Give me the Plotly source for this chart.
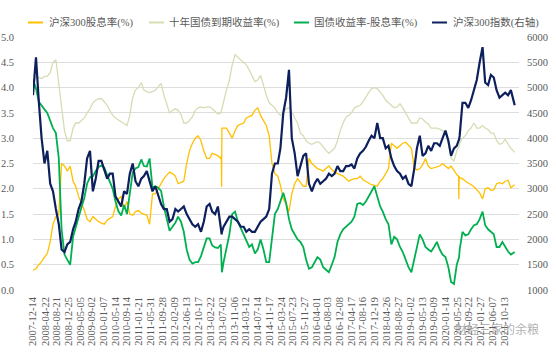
import plotly.graph_objects as go

# ---------------- data ----------------
extra_dates = ["2013-06-21", "2013-06-24", "2013-06-27",
               "2020-06-03", "2020-06-06", "2020-06-09"]
month_dates = ["2007-12-14"] + [f"{y}-{m:02d}-15" for y in range(2008, 2022) for m in range(1, 13)] + ["2022-01-25"]
dates = sorted(month_dates + extra_dates)

hs300_index = [
    4850,
    5600, 4700, 4000, 3500, 3750, 3100, 2950, 2600, 2300, 1800, 1750, 1900,
    1950, 2200, 2350, 2600, 2750, 3100, 3600, 3750, 2950, 3200, 3550, 3550,
    3350, 3200, 3300, 3300, 2850, 2750, 2650, 2950, 2900, 3300, 3500, 3150,
    3050, 3200, 3250, 3350, 3150, 2950, 3050, 2850, 2700, 2600, 2600, 2350,
    2400, 2600, 2550, 2600, 2650, 2500, 2400, 2300, 2250, 2300, 2150, 2350,
    2650, 2700, 2550, 2500, 2650, 2300, 2150, 2100, 2150, 2250, 2350, 2450, 2450, 2400, 2350,
    2250, 2250, 2150, 2200, 2150, 2150, 2250, 2350, 2400, 2450, 2600, 3300,
    3500, 3500, 3800, 4500, 4800, 5350, 4000, 3700, 3250, 3450, 3650, 3700,
    3100, 2950, 3100, 3200, 3100, 3150, 3200, 3300, 3250, 3300, 3450, 3350,
    3350, 3450, 3450, 3480, 3400, 3600, 3700, 3750, 3830, 3950, 4050, 4000,
    4300, 4000, 4000, 3800, 3850, 3600, 3450, 3350, 3300, 3200, 3250, 3100,
    3050, 3400, 3800, 4050, 3650, 3700, 3850, 3750, 3900, 3900, 3850, 4000,
    4150, 3950, 3650, 3800, 3850, 3950, 3960, 3970, 4050, 4700, 4700, 4600, 4750, 4950, 5150,
    5500, 5800, 5100, 5050, 5250, 5200, 4950, 4800, 4850, 4900, 4850, 4950,
    4650,
]

dividend_yield = [
    0.39,
    0.42, 0.50, 0.56, 0.65, 0.72, 0.95, 1.30, 1.45, 1.50, 2.50, 2.45, 2.35,
    2.45, 2.15, 2.05, 1.85, 1.72, 1.58, 1.40, 1.35, 1.45, 1.40, 1.35, 1.32,
    1.30, 1.38, 1.42, 1.45, 1.65, 1.80, 1.85, 1.60, 1.75, 1.50, 1.48, 1.55,
    1.57, 1.52, 1.50, 1.48, 1.30, 1.90, 1.90, 2.00, 2.12, 2.20, 2.27, 2.33,
    2.30, 2.25, 2.10, 2.12, 2.15, 2.50, 2.75, 2.90, 3.00, 3.05, 2.95, 2.75,
    2.60, 2.60, 2.70, 2.68, 2.65, 2.60, 2.65, 2.04, 3.20, 3.20, 3.20, 3.10, 3.00, 3.15, 3.25,
    3.28, 3.30, 3.40, 3.42, 3.45, 3.55, 3.60, 3.45, 3.35, 3.25, 3.05, 2.50,
    2.30, 2.25, 2.07, 1.80, 1.70, 1.55, 1.90, 2.10, 2.20, 2.12, 2.05, 2.05,
    2.60, 2.50, 2.45, 2.40, 2.38, 2.35, 2.40, 2.45, 2.38, 2.33, 2.30, 2.27,
    2.25, 2.20, 2.15, 2.18, 2.20, 2.20, 2.25, 2.18, 2.15, 2.12, 2.08, 2.07,
    2.05, 2.15, 2.20, 2.30, 2.40, 2.90, 2.85, 2.80, 2.85, 2.90, 2.92, 2.85,
    2.80, 2.42, 2.37, 2.40, 2.47, 2.60, 2.45, 2.40, 2.42, 2.43, 2.45, 2.50,
    2.45, 2.40, 2.45, 2.35, 2.28, 2.25, 1.80, 2.25, 2.22, 2.20, 2.15, 2.12, 2.08, 2.04, 1.98,
    1.92, 1.80, 2.00, 2.02, 1.97, 1.98, 2.10, 2.12, 2.10, 2.15, 2.17, 2.02,
    2.08,
]

bond_10y = [
    4.25,
    4.18, 4.20, 4.18, 4.22, 4.22, 4.30, 4.50, 4.55, 4.10, 3.70, 3.15, 2.95,
    2.95, 3.20, 3.30, 3.30, 3.35, 3.40, 3.50, 3.58, 3.70, 3.75, 3.78, 3.78,
    3.72, 3.65, 3.55, 3.45, 3.40, 3.36, 3.32, 3.28, 3.25, 3.45, 3.80, 3.95,
    4.00, 4.10, 3.95, 3.92, 3.90, 3.92, 3.95, 4.02, 4.08, 3.85, 3.65, 3.50,
    3.55, 3.58, 3.55, 3.47, 3.30, 3.30, 3.35, 3.42, 3.55, 3.60, 3.62, 3.60,
    3.62, 3.62, 3.58, 3.52, 3.48, 3.50, 3.55, 3.55, 3.55, 3.70, 3.95, 4.15, 4.45, 4.65, 4.60,
    4.55, 4.50, 4.45, 4.35, 4.22, 4.12, 4.15, 4.24, 4.05, 3.85, 3.70, 3.65,
    3.60, 3.50, 3.45, 3.50, 3.58, 3.60, 3.52, 3.40, 3.30, 3.10, 3.05, 2.95,
    2.90, 2.88, 2.90, 2.93, 2.90, 2.82, 2.76, 2.70, 2.75, 2.80, 2.95, 3.15,
    3.30, 3.42, 3.45, 3.50, 3.60, 3.62, 3.65, 3.72, 3.82, 3.90, 3.98, 4.00,
    3.98, 3.92, 3.85, 3.75, 3.70, 3.65, 3.60, 3.62, 3.68, 3.60, 3.50, 3.42,
    3.30, 3.30, 3.30, 3.40, 3.38, 3.32, 3.28, 3.20, 3.20, 3.20, 3.18, 3.15,
    3.10, 2.90, 2.60, 2.55, 2.75, 2.80, 2.82, 2.85, 2.90, 3.00, 3.05, 3.15, 3.20, 3.30, 3.20,
    3.20, 3.25, 3.20, 3.17, 3.10, 3.10, 2.95, 2.88, 2.90, 2.98, 2.88, 2.80,
    2.72,
]

spread = [
    4.16,
    3.98, 3.72, 3.64, 3.57, 3.50, 3.35, 3.20, 3.10, 2.60, 1.20, 0.70, 0.60,
    0.50, 1.05, 1.25, 1.45, 1.63, 1.82, 2.10, 2.23, 2.25, 2.35, 2.43, 2.46,
    2.42, 2.27, 2.13, 2.00, 1.75, 1.56, 1.47, 1.68, 1.50, 1.95, 2.32, 2.40,
    2.43, 2.58, 2.45, 2.44, 2.60, 2.02, 2.05, 2.02, 1.96, 1.65, 1.38, 1.17,
    1.25, 1.33, 1.45, 1.35, 1.15, 0.80, 0.60, 0.52, 0.55, 0.55, 0.67, 0.85,
    1.02, 1.02, 0.88, 0.84, 0.83, 0.90, 0.55, 0.35, 0.35, 0.55, 0.80, 1.10, 1.50, 1.55, 1.35,
    1.22, 1.10, 0.95, 0.85, 0.90, 0.72, 0.80, 1.00, 0.80, 0.55, 0.55, 1.00,
    1.50, 1.60, 1.75, 1.92, 1.72, 1.40, 1.20, 1.10, 1.00, 0.95, 0.85, 0.60,
    0.42, 0.45, 0.55, 0.65, 0.60, 0.45, 0.40, 0.35, 0.50, 0.65, 0.95, 1.10,
    1.20, 1.25, 1.30, 1.35, 1.45, 1.70, 1.72, 1.68, 1.75, 1.85, 1.95, 2.05,
    1.85, 1.65, 1.55, 1.40, 1.30, 0.90, 1.05, 1.00, 0.85, 0.75, 0.60, 0.45,
    0.35, 0.60, 0.85, 1.10, 1.00, 0.85, 0.80, 0.76, 0.85, 0.95, 0.80, 0.70,
    0.65, 0.45, 0.16, 0.12, 0.50, 0.60, 0.65, 0.65, 0.80, 1.15, 1.08, 1.10, 1.20, 1.28, 1.30,
    1.40, 1.55, 1.28, 1.20, 1.15, 1.10, 0.85, 0.85, 0.95, 0.85, 0.76, 0.70,
    0.75,
]

tick_labels = [
    "2007-12-14", "2008-04-22", "2008-08-21", "2008-12-25", "2009-05-05", "2009-09-02",
    "2010-01-07", "2010-05-14", "2010-09-14", "2011-01-21", "2011-05-31", "2011-09-28",
    "2012-02-09", "2012-06-13", "2012-10-17", "2013-02-22", "2013-07-02", "2013-11-06",
    "2014-03-12", "2014-07-14", "2014-11-17", "2015-03-24", "2015-07-23", "2015-11-27",
    "2016-04-01", "2016-08-03", "2016-12-08", "2017-04-17", "2017-08-16", "2017-12-19",
    "2018-04-26", "2018-08-27", "2019-01-02", "2019-05-13", "2019-09-09", "2020-01-14",
    "2020-05-25", "2020-09-22", "2021-01-27", "2021-06-07", "2021-10-13",
]

series_names = ["沪深300股息率(%)", "十年国债到期收益率(%)", "国债收益率-股息率(%)", "沪深300指数(右轴)"]
series_colors = ["#FFC000", "#D5DDB4", "#00B050", "#0D1F5C"]

for arr in (hs300_index, dividend_yield, bond_10y, spread):
    assert len(arr) == len(dates), (len(arr), len(dates))

# ---------------- figure ----------------
W, H = 556, 354
L, R, T, B = 33, 519, 37, 290   # plot area in pixels

fig = go.Figure()
fig.add_trace(go.Scatter(x=dates, y=dividend_yield, name=series_names[0], mode="lines",
                         line=dict(color=series_colors[0], width=1.3)))
fig.add_trace(go.Scatter(x=dates, y=bond_10y, name=series_names[1], mode="lines",
                         line=dict(color=series_colors[1], width=1.3)))
fig.add_trace(go.Scatter(x=dates, y=spread, name=series_names[2], mode="lines",
                         line=dict(color=series_colors[2], width=1.8)))
fig.add_trace(go.Scatter(x=dates, y=hs300_index, name=series_names[3], mode="lines", yaxis="y2",
                         line=dict(color=series_colors[3], width=2.2)))

tick_font = dict(family="Liberation Serif, Noto Sans CJK SC", size=10.5, color="#595959")

fig.update_layout(
    width=W, height=H,
    margin=dict(l=L, r=W - R, t=T, b=H - B, pad=0),
    paper_bgcolor="white", plot_bgcolor="white",
    showlegend=False,
    xaxis=dict(
        type="date",
        range=["2007-12-14", "2022-03-12"],
        tickmode="array", tickvals=tick_labels, ticktext=tick_labels,
        tickangle=-90, tickfont=tick_font,
        showgrid=False, zeroline=False, showline=False, ticks="",
        ticklabelstandoff=4, automargin=False,
    ),
    yaxis=dict(
        range=[0, 5], dtick=0.5, tickformat=".1f",
        showgrid=True, gridcolor="#DDDDDD", gridwidth=1,
        zeroline=False, showline=False, ticks="",
        tickfont=tick_font, ticklabelstandoff=18, automargin=False,
    ),
    yaxis2=dict(
        range=[1000, 6000], dtick=500, overlaying="y", side="right",
        showgrid=False, zeroline=False, showline=False, ticks="",
        tickfont=tick_font, ticklabelstandoff=7, automargin=False,
    ),
)

# custom legend (short line samples like the reference)
def px2x(px):
    return (px - L) / (R - L)

def px2y(py):
    return (B - py) / (B - T)

legend_y = 22.5
legend_items = [(28, 43, 47), (149, 164, 167), (294, 309, 312), (432, 447, 451)]
for (x0, x1, xt), name, color in zip(legend_items, series_names, series_colors):
    fig.add_shape(type="line", xref="paper", yref="paper",
                  x0=px2x(x0), x1=px2x(x1), y0=px2y(legend_y), y1=px2y(legend_y),
                  line=dict(color=color, width=2))
    fig.add_annotation(xref="paper", yref="paper", x=px2x(xt), y=px2y(legend_y),
                       xanchor="left", yanchor="middle", showarrow=False,
                       text=name, font=dict(family="Liberation Serif, Noto Sans CJK SC",
                                            size=10.5, color="#595959"))

# watermark
fig.add_annotation(xref="paper", yref="paper", x=px2x(497), y=px2y(328),
                   xanchor="center", yanchor="middle", showarrow=False,
                   text="财经三家的余粮",
                   font=dict(family="Noto Sans CJK SC", size=12, color="rgba(150,150,150,0.75)"))

fig.write_html("out.html")
